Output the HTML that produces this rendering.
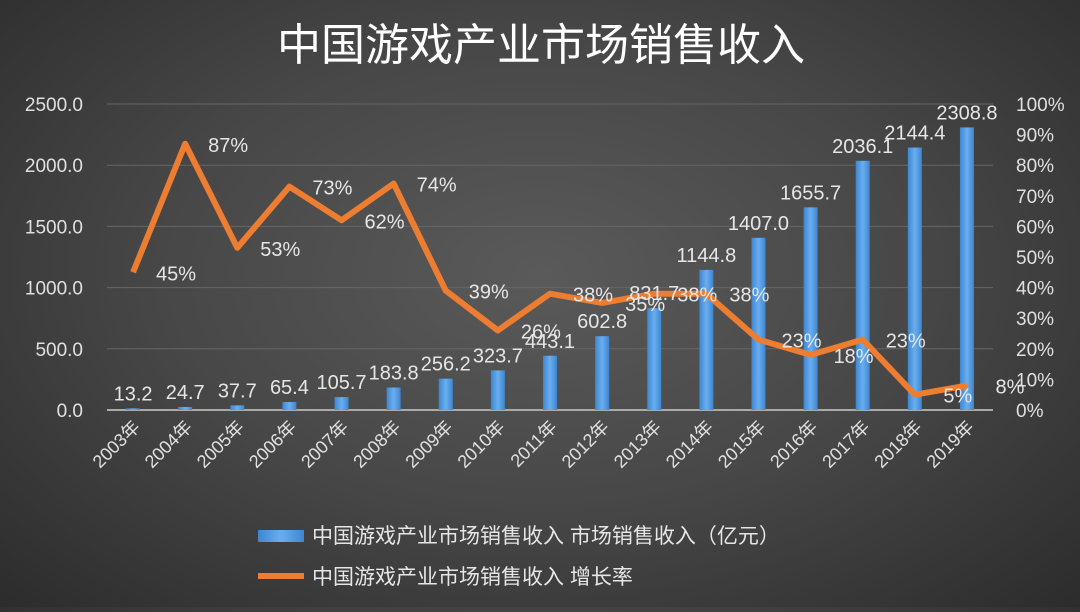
<!DOCTYPE html>
<html><head><meta charset="utf-8"><style>
body{margin:0;width:1080px;height:607px;overflow:hidden;background:radial-gradient(ellipse at 50% 45%,#5a5a5a 0%,#474747 50%,#2c2c2c 100%);font-family:"Liberation Sans","Noto Sans CJK SC",sans-serif;}
svg text{font-family:"Liberation Sans","Noto Sans CJK SC",sans-serif;}
</style></head><body>
<svg id="c" width="1080" height="607">
<defs><linearGradient id="bg" x1="0" x2="1"><stop offset="0" stop-color="#3d86cf"/><stop offset="0.5" stop-color="#6aaef0"/><stop offset="1" stop-color="#3d86cf"/></linearGradient></defs>
<text x="541" y="60" text-anchor="middle" font-size="44" fill="#fff">中国游戏产业市场销售收入</text>
<g id="grid"></g><g id="bars"></g><g id="line"></g><g id="labels"></g>
<g>
<rect x="258" y="530" width="46" height="12" fill="url(#bg)"/>
<text x="312" y="543" font-size="21" fill="#e6e6e6">中国游戏产业市场销售收入 市场销售收入（亿元）</text>
<line x1="258" y1="576" x2="304" y2="576" stroke="#ed7d31" stroke-width="6"/>
<text x="312" y="584" font-size="21" fill="#e6e6e6">中国游戏产业市场销售收入 增长率</text>
</g>
</svg>
<script>
const categories=["2003年","2004年","2005年","2006年","2007年","2008年","2009年","2010年","2011年","2012年","2013年","2014年","2015年","2016年","2017年","2018年","2019年"];
const revenue=[13.2,24.7,37.7,65.4,105.7,183.8,256.2,323.7,443.1,602.8,831.7,1144.8,1407.0,1655.7,2036.1,2144.4,2308.8];
const growth=[45,87,53,73,62,74,39,26,38,35,38,38,23,18,23,5,8];
const leftTicks=["0.0","500.0","1000.0","1500.0","2000.0","2500.0"];
const rightTicks=["0%","10%","20%","30%","40%","50%","60%","70%","80%","90%","100%"];
const NS="http://www.w3.org/2000/svg";
const x0=107,x1=993,yb=410,yt=104;
const step=(x1-x0)/categories.length;
const xs=i=>x0+step*(i+0.5);
const yL=v=>yb-(v/2500)*(yb-yt);
const yR=v=>yb-(v/100)*(yb-yt);
function mk(t,a,p){const e=document.createElementNS(NS,t);for(const k in a)e.setAttribute(k,a[k]);document.getElementById(p).appendChild(e);return e;}
leftTicks.forEach((t,i)=>{const v=i*500;
 const g=mk("line",{x1:x0,x2:x1,y1:yL(v),y2:yL(v),stroke:i?"#666":"#aaa","stroke-width":i?1:2},"grid");
 
 
 const tx=mk("text",{x:83,y:yL(v)+7,"text-anchor":"end","font-size":19,fill:"#e0e0e0"},"grid");tx.textContent=t;
 
 });
rightTicks.forEach((t,i)=>{const tx=mk("text",{x:1016,y:yR(i*10)+7,"font-size":19,fill:"#e0e0e0"},"grid");tx.textContent=t;
 
 });
categories.forEach((c,i)=>{
 const b=mk("rect",{x:xs(i)-7,y:yL(revenue[i]),width:14,height:yb-yL(revenue[i]),fill:"url(#bg)"},"bars");
 
 
 const v=mk("text",{x:xs(i),y:yL(revenue[i])-8,"text-anchor":"middle","font-size":20,fill:"#e6e6e6"},"labels");v.textContent=revenue[i].toFixed(1);
 
 
 const g=mk("text",{x:xs(i)+43,y:yR(growth[i])+8,"text-anchor":"middle","font-size":20,fill:"#e6e6e6"},"labels");g.textContent=growth[i]+"%";
 
 
 const xl=mk("text",{x:xs(i)+8,y:yb+18,"text-anchor":"end","font-size":18,fill:"#e0e0e0",transform:`rotate(-45 ${xs(i)+8} ${yb+18})`},"labels");xl.textContent=c;
 
 
});
const pl=mk("polyline",{points:growth.map((g,i)=>xs(i)+","+yR(g)).join(" "),fill:"none",stroke:"#ed7d31","stroke-width":6,"stroke-linejoin":"round"},"line");


</script>
</body></html>
